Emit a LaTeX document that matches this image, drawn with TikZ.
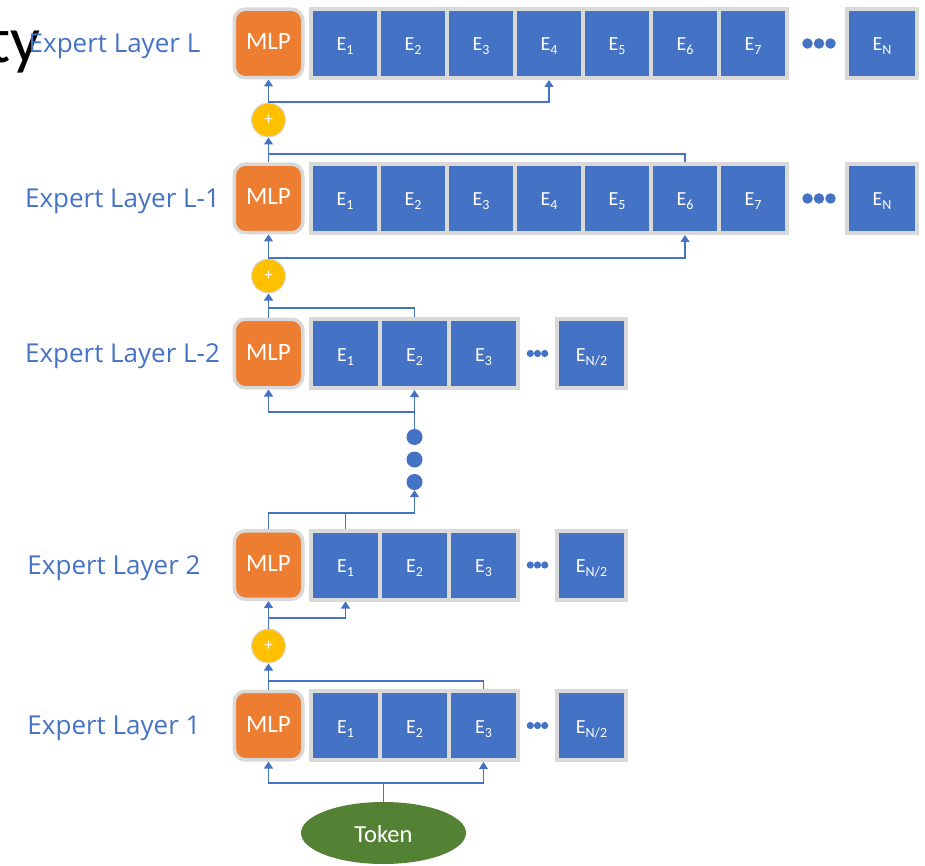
\documentclass[tikz,border=0pt]{standalone}
\usepackage{fontspec}
\setmainfont{Carlito}
\newfontfamily\labelfont{Open Sans}
\usetikzlibrary{arrows.meta,shapes.geometric}

\definecolor{cellblue}{HTML}{4472C4}
\definecolor{rimgray}{HTML}{D9D9D9}
\definecolor{mlporange}{HTML}{ED7D31}
\definecolor{sumyellow}{HTML}{FFC000}
\definecolor{tokgreen}{HTML}{548235}

% expert name with a lowered index
\newcommand\ex[1]{E\raisebox{-0.2em}{\fontsize{14}{14}\selectfont #1}}

\begin{document}
\begin{tikzpicture}[x=1pt,y=-1pt,
  cell/.style={draw=rimgray,line width=4pt,fill=cellblue,minimum width=#1,
    minimum height=69pt,inner sep=0pt,text=white,text height=15pt,text depth=0pt,
    font=\fontsize{20}{20}\selectfont},
  mlp/.style={draw=rimgray,line width=3.5pt,fill=mlporange,rounded corners=11pt,
    minimum size=68.5pt,inner sep=0pt,text=white,text height=13pt,text depth=0pt,
    font=\fontsize{25}{25}\selectfont},
  sum/.style={circle,draw=rimgray,line width=1pt,fill=sumyellow,minimum size=34pt,
    inner sep=0pt,text=white,font=\fontsize{17}{17}\selectfont},
  layertext/.style={anchor=base,text=cellblue,font=\labelfont\fontsize{26}{26}\selectfont},
  bead/.style={circle,fill=cellblue,inner sep=0pt,minimum size=#1},
  wire/.style={draw=cellblue,line width=1.2pt},
  feed/.style={wire,-{Triangle[length=7pt,width=9pt]}}
]
\useasboundingbox (0,0) rectangle (925,866);

% title fragment
\node[anchor=base east,inner sep=0pt,font=\fontsize{66}{66}\selectfont] (ttl) at (41,63) {ty};

% ---- layer labels
\node[layertext] (l1) at (114.5,52.5) {Expert Layer L};
\node[layertext] (l2) at (122.5,207.5) {Expert Layer L-1};
\node[layertext] (l3) at (122.5,362.5) {Expert Layer L-2};
\node[layertext] (l4) at (114,574) {Expert Layer 2};
\node[layertext] (l5) at (114,734.5) {Expert Layer 1};

% ---- full-width layers (N experts)
\foreach \r/\y in {1/43.5,2/198.5}{
  \node[mlp] (m\r) at (268.5,\y) {MLP};
  \foreach \i in {1,...,7}
    \node[cell=68pt] (r\r e\i) at ({345+68*(\i-1)},\y) {\ex{\i}};
  \foreach \k in {0,1,2}
    \node[bead=10.5pt] (r\r d\k) at ({807.5+11.5*\k},\y) {};
  \node[cell=70pt] (r\r en) at (882,\y) {\ex{N}};
}

% ---- half-width layers (N/2 experts)
\foreach \r/\y in {3/353.5,4/565,5/725.5}{
  \node[mlp] (m\r) at (268.5,\y) {MLP};
  \foreach \i in {1,2,3}
    \node[cell=69pt] (r\r e\i) at ({345.5+69*(\i-1)},\y) {\ex{\i}};
  \foreach \k in {0,1,2}
    \node[bead=7.2pt] (r\r d\k) at ({530.3+7.2*\k},\y) {};
  \node[cell=69pt] (r\r en) at (591.5,\y) {\ex{N/2}};
}

% ---- residual sums
\node[sum] (p1) at (268.5,120) {+};
\node[sum] (p2) at (268.5,276) {+};
\node[sum] (p3) at (268.5,646) {+};

% ---- skipped layers
\node[bead=16pt] (v1) at (414.5,437) {};
\node[bead=16pt] (v2) at (414.5,459.5) {};
\node[bead=16pt] (v3) at (414.5,482) {};

% ---- input token
\node[ellipse,fill=tokgreen,minimum width=165pt,minimum height=62pt,inner sep=0pt,
  text=white,text height=19pt,text depth=0pt,font=\fontsize{24.5}{24.5}\selectfont]
  (tok) at (383.5,833) {Token};

% ---- junctions
\coordinate (j5) at (383.5,783);
\coordinate (k5) at (268.5,681);
\coordinate (j4) at (268.5,618);
\coordinate (k4) at (268.5,513);
\coordinate (j3) at (414.5,412);
\coordinate (k3) at (268.5,308);
\coordinate (j2) at (268.5,258);
\coordinate (k2) at (268.5,154);
\coordinate (j1) at (268.5,102);

% layer 1
\draw[wire] (tok.north) -- (j5);
\draw[feed] (j5) -| (m5.south);
\draw[feed] (j5) -| (r5e3.south);
\draw[wire] (r5e3.north) |- (k5);
\draw[feed] (m5.north) -- (p3.south);
% layer 2
\draw[wire] (p3.north) -- (j4);
\draw[feed] (j4) -- (m4.south);
\draw[feed] (j4) -| (r4e1.south);
\draw[wire] (r4e1.north) -- (r4e1.north |- k4);
\draw[feed] (m4.north) -- (k4) -| (v3.south);
% layer L-2
\draw[wire] (v1.north) -- (j3);
\draw[feed] (j3) -- (r3e2.south);
\draw[feed] (j3) -| (m3.south);
\draw[wire] (r3e2.north) |- (k3);
\draw[feed] (m3.north) -- (p2.south);
% layer L-1
\draw[wire] (p2.north) -- (j2);
\draw[feed] (j2) -- (m2.south);
\draw[feed] (j2) -| (r2e6.south);
\draw[wire] (r2e6.north) |- (k2);
\draw[feed] (m2.north) -- (p1.south);
% layer L
\draw[wire] (p1.north) -- (j1);
\draw[feed] (j1) -- (m1.south);
\draw[feed] (j1) -| (r1e4.south);
\end{tikzpicture}
\end{document}
